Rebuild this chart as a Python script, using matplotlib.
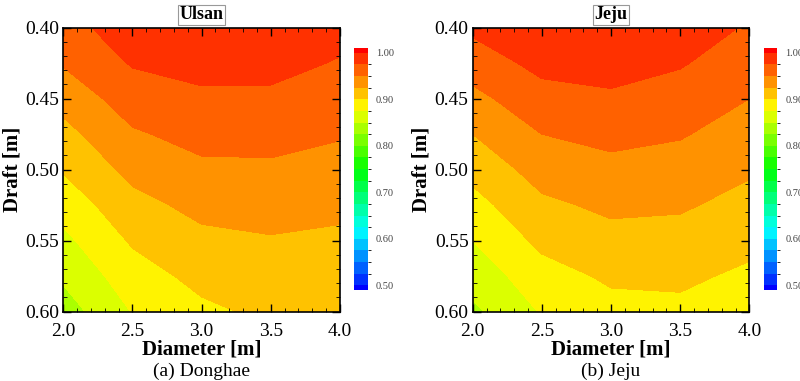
import colorsys
import numpy as np
import matplotlib
matplotlib.use("Agg")
import matplotlib.pyplot as plt
from matplotlib.colors import ListedColormap, BoundaryNorm
from matplotlib.ticker import MultipleLocator

plt.rcParams['font.family'] = ['Liberation Serif', 'DejaVu Serif']

# grid
diameter = [2.0, 2.5, 3.0, 3.5, 4.0]
draft = [0.400, 0.425, 0.450, 0.475, 0.500, 0.525, 0.550, 0.575, 0.600]

# efficiency values, rows = draft, cols = diameter
ulsan = [
    [0.968, 0.985, 0.990, 0.990, 0.984],
    [0.952, 0.977, 0.982, 0.983, 0.973],
    [0.934, 0.962, 0.971, 0.970, 0.963],
    [0.917, 0.947, 0.958, 0.958, 0.952],
    [0.902, 0.932, 0.945, 0.946, 0.941],
    [0.885, 0.917, 0.932, 0.935, 0.931],
    [0.869, 0.903, 0.919, 0.923, 0.920],
    [0.854, 0.889, 0.907, 0.914, 0.910],
    [0.838, 0.876, 0.895, 0.905, 0.905],
]
jeju = [
    [0.980, 0.990, 0.993, 0.990, 0.972],
    [0.962, 0.982, 0.985, 0.977, 0.962],
    [0.943, 0.966, 0.971, 0.965, 0.950],
    [0.925, 0.950, 0.957, 0.952, 0.939],
    [0.908, 0.935, 0.943, 0.940, 0.928],
    [0.891, 0.920, 0.930, 0.928, 0.917],
    [0.875, 0.906, 0.917, 0.916, 0.907],
    [0.860, 0.890, 0.904, 0.905, 0.895],
    [0.845, 0.877, 0.892, 0.894, 0.885],
]
titles = ["Ulsan", "Jeju"]
captions = ["(a) Donghae", "(b) Jeju"]

levels = np.arange(0.5, 1.0001, 0.025)
cbar_ticks = [0.5, 0.6, 0.7, 0.8, 0.9, 1.0]

# rainbow: blue (under) -> red (over), 22 bands in total
n = len(levels) + 1
hues = np.linspace(240, 0, n) / 360.0
cols = [colorsys.hsv_to_rgb(h, 1, 1) for h in hues]
cmap = ListedColormap(cols[1:-1])
cmap.set_under(cols[0])
cmap.set_over(cols[-1])
norm = BoundaryNorm(levels, cmap.N)

fig = plt.figure(figsize=(8, 3.81), dpi=100)
ax_pos = [[0.0791, 0.182, 0.3458, 0.7454], [0.5909, 0.182, 0.3458, 0.7454]]
cb_pos = [[0.4429, 0.2388, 0.0167, 0.635], [0.9553, 0.2388, 0.0158, 0.635]]

for i, Z in enumerate([ulsan, jeju]):
    ax = fig.add_axes(ax_pos[i])
    cs = ax.contourf(diameter, draft, np.array(Z), levels=levels, cmap=cmap,
                     norm=norm, extend='both')
    ax.set_xlim(2.0, 4.0)
    ax.set_ylim(0.60, 0.40)
    ax.xaxis.set_major_locator(MultipleLocator(0.5))
    ax.xaxis.set_minor_locator(MultipleLocator(0.1))
    ax.yaxis.set_major_locator(MultipleLocator(0.05))
    ax.yaxis.set_minor_locator(MultipleLocator(0.01))
    ax.xaxis.set_major_formatter(lambda v, p: f"{v:.1f}")
    ax.yaxis.set_major_formatter(lambda v, p: f"{v:.2f}")
    ax.tick_params(which='both', direction='in', top=True, right=True, labelsize=14)
    ax.tick_params(which='major', length=6, width=1)
    ax.tick_params(which='minor', length=3, width=0.6)
    ax.tick_params(axis='x', which='major', pad=8)
    ax.tick_params(axis='y', which='major', pad=3)
    for s in ax.spines.values():
        s.set_linewidth(1.2)
    ax.set_xlabel("Diameter [m]", fontsize=15, fontweight='bold', labelpad=0)
    ax.set_ylabel("Draft [m]", fontsize=15, fontweight='bold', labelpad=2)
    ax.set_title(titles[i], fontsize=13, fontweight='bold', pad=6,
                 bbox=dict(facecolor='white', edgecolor='#999999', linewidth=0.8, pad=1))
    ax.text(0.5, -0.21, captions[i], transform=ax.transAxes, ha='center',
            va='center', fontsize=14)

    cax = fig.add_axes(cb_pos[i])
    cb = fig.colorbar(cs, cax=cax, ticks=cbar_ticks, extendrect=True,
                      extendfrac=0.02, drawedges=False, format='%.2f')
    cb.outline.set_visible(False)
    cb.ax.tick_params(length=0, labelsize=7.5, labelcolor='#444444', pad=6)

fig.savefig("out.png", dpi=100)
